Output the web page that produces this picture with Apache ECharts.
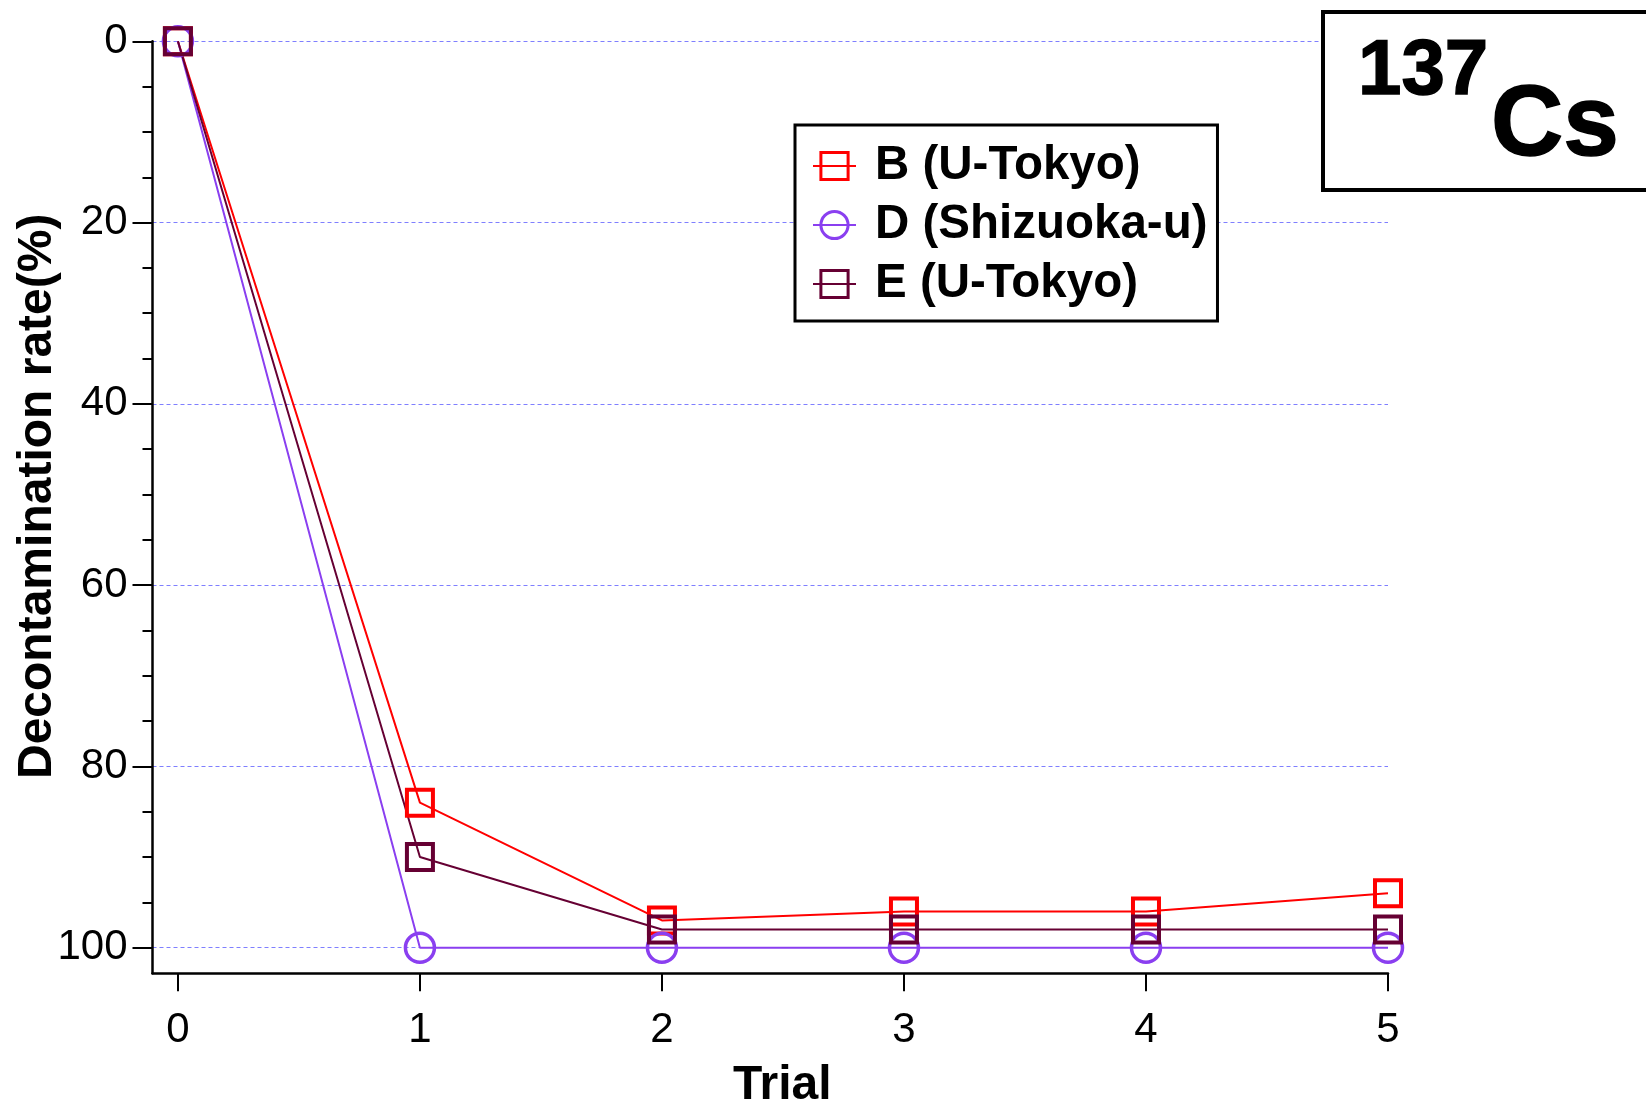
<!DOCTYPE html>
<html>
<head>
<meta charset="utf-8">
<script src="https://cdn.jsdelivr.net/npm/echarts@6/dist/echarts.min.js"></script>
<style>
html,body{margin:0;padding:0;background:#fff;}
#chart{width:1646px;height:1102px;}
</style>
</head>
<body>
<div id="chart"></div>
<script>
// ---- data ----
const trials = [0, 1, 2, 3, 4, 5];
const seriesNames = ['B (U-Tokyo)', 'D (Shizuoka-u)', 'E (U-Tokyo)'];
const rateB = [0, 84, 97, 96, 96, 94];
const rateD = [0, 100, 100, 100, 100, 100];
const rateE = [0, 90, 98, 98, 98, 98];
const yMajorTicks = [0, 20, 40, 60, 80, 100];
const yMinorTicks = [5, 10, 15, 25, 30, 35, 45, 50, 55, 65, 70, 75, 85, 90, 95];
const xTicks = [0, 1, 2, 3, 4, 5];

const font = '"Liberation Sans", Arial, Helvetica, sans-serif';
const colors = ['#ff0000', '#8a3ff0', '#660033'];

function pairs(vals) { return trials.map((t, i) => [t, vals[i]]); }

function mkSeries(name, vals, color, symbol, size, bw) {
  return {
    name: name,
    type: 'line',
    data: pairs(vals),
    yAxisIndex: 0,
    symbol: symbol,
    symbolSize: size,
    showAllSymbol: true,
    lineStyle: { color: color, width: 2 },
    itemStyle: { color: 'rgba(255,255,255,0)', borderColor: color, borderWidth: bw },
    emphasis: { disabled: true },
    animation: false,
    z: 3
  };
}

const chart = echarts.init(document.getElementById('chart'), null, { renderer: 'canvas' });
chart.setOption({
  backgroundColor: '#fff',
  animation: false,
  grid: { left: 152.5, right: 258, top: 41.3, bottom: 128.7, containLabel: false, outerBoundsMode: 'none' },
  xAxis: {
    type: 'value',
    min: -0.105,
    max: 5,
    name: 'Trial',
    nameLocation: 'middle',
    nameGap: 88,
    nameTextStyle: { fontFamily: font, fontSize: 48, fontWeight: 'bold', color: '#000', padding: [0, 0, 0, 24] },
    axisLine: { show: true, onZero: false, lineStyle: { color: '#000', width: 2.5 } },
    axisTick: { show: true, customValues: xTicks, length: 18, lineStyle: { color: '#000', width: 2 } },
    axisLabel: { customValues: xTicks, fontFamily: font, fontSize: 42, color: '#000', margin: 36 },
    splitLine: { show: false }
  },
  yAxis: [
    {
      type: 'value',
      position: 'left',
      inverse: true,
      min: 0,
      max: 102.83,
      interval: 20,
      name: 'Decontamination rate(%)',
      nameLocation: 'middle',
      nameRotate: 90,
      nameGap: 91,
      nameMoveOverlap: false,
      nameTextStyle: { fontFamily: font, fontSize: 48, fontWeight: 'bold', color: '#000', padding: [0, 0, 0, 22] },
      axisLine: { show: true, onZero: false, lineStyle: { color: '#000', width: 2.5 } },
      axisTick: { show: true, customValues: yMajorTicks, length: 20, lineStyle: { color: '#000', width: 2 } },
      axisLabel: { customValues: yMajorTicks, fontFamily: font, fontSize: 42, color: '#000', margin: 25 },
      splitLine: { show: true, lineStyle: { color: '#7f7fff', width: 1, type: [4, 3] } }
    },
    {
      type: 'value',
      position: 'left',
      inverse: true,
      min: 0,
      max: 102.83,
      interval: 5,
      axisLine: { show: false, onZero: false },
      axisTick: { show: true, customValues: yMinorTicks, length: 10, lineStyle: { color: '#000', width: 2 } },
      axisLabel: { show: false },
      splitLine: { show: false }
    }
  ],
  legend: {
    left: 795,
    top: 125,
    orient: 'vertical',
    data: seriesNames,
    itemWidth: 43,
    itemHeight: 34,
    itemGap: 9,
    padding: [16, 10, 12, 17],
    backgroundColor: '#fff',
    borderColor: '#000',
    borderWidth: 3,
    borderRadius: 0,
    selectedMode: false,
    itemStyle: { borderWidth: 3 },
    lineStyle: { width: 2 },
    textStyle: { fontFamily: font, fontSize: 47.5, fontWeight: 'bold', color: '#000', lineHeight: 50, padding: [0, 0, 0, 14] },
    z: 10
  },
  graphic: [
    {
      type: 'rect',
      shape: { x: 1323, y: 12, width: 400, height: 178 },
      style: { fill: '#fff', stroke: '#000', lineWidth: 4 },
      z: 20
    },
    {
      type: 'text',
      x: 1358,
      y: 72,
      style: { text: '137', fontFamily: font, fontSize: 78, fontWeight: 'bold', fill: '#000', stroke: '#000', lineWidth: 1.5, verticalAlign: 'middle', align: 'left' },
      z: 21
    },
    {
      type: 'text',
      x: 1491,
      y: 127,
      style: { text: 'Cs', fontFamily: font, fontSize: 100, fontWeight: 'bold', fill: '#000', stroke: '#000', lineWidth: 1.5, verticalAlign: 'middle', align: 'left' },
      z: 21
    }
  ],
  series: [
    mkSeries(seriesNames[0], rateB, colors[0], 'rect', 26, 4),
    mkSeries(seriesNames[1], rateD, colors[1], 'circle', 29, 3.5),
    mkSeries(seriesNames[2], rateE, colors[2], 'rect', 26, 4)
  ]
});
</script>
</body>
</html>
